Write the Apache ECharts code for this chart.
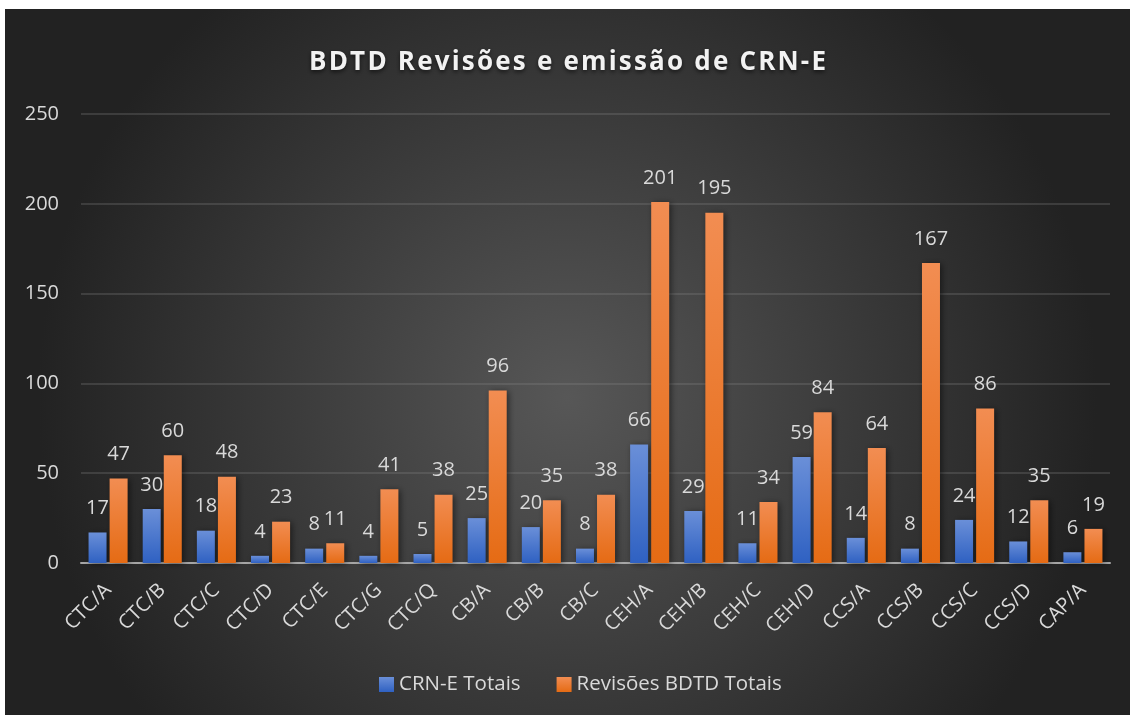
<!DOCTYPE html>
<html>
<head>
<meta charset="utf-8">
<script src="https://cdn.jsdelivr.net/npm/echarts@6/dist/echarts.min.js"></script>
<style>
  html, body { margin: 0; padding: 0; background: #ffffff; }
  /* 图表容器，四周留白与原图一致 */
  #chart { position: absolute; left: 5px; top: 9px; width: 1125px; height: 706px; }
</style>
</head>
<body>
<div id="chart"></div>
<script>
// 数据
const categories = ['CTC/A', 'CTC/B', 'CTC/C', 'CTC/D', 'CTC/E', 'CTC/G', 'CTC/Q', 'CB/A', 'CB/B', 'CB/C',
  'CEH/A', 'CEH/B', 'CEH/C', 'CEH/D', 'CCS/A', 'CCS/B', 'CCS/C', 'CCS/D', 'CAP/A']
const crnTotais = [17, 30, 18, 4, 8, 4, 5, 25, 20, 8, 66, 29, 11, 59, 14, 8, 24, 12, 6]
const revisoesTotais = [47, 60, 48, 23, 11, 41, 38, 96, 35, 38, 201, 195, 34, 84, 64, 167, 86, 35, 19]
const yTicks = { min: 0, max: 250, interval: 50 }
const chartTitle = 'BDTD Revisões e emissão de CRN-E'

const font = '"Open Sans", "Noto Sans", sans-serif'
const txt = '#d9d9d9'

const chart = echarts.init(document.getElementById('chart'))

function barGradient(top, bottom) {
  return new echarts.graphic.LinearGradient(0, 0, 0, 1, [
    { offset: 0, color: top },
    { offset: 1, color: bottom }
  ])
}

// 标题字间距：每个字符单独一个 rich 片段，左右加一点 padding
const spacedTitle = chartTitle.split('').map(ch => '{c|' + ch + '}').join('')

const option = {
  backgroundColor: {
    type: 'radial', x: 0.5, y: 0.55, r: 0.75,
    colorStops: [
      { offset: 0, color: '#575757' },
      { offset: 1, color: '#222222' }
    ]
  },
  title: {
    text: spacedTitle,
    left: 'center',
    top: 36,
    padding: [5, 0, 5, 6],
    textStyle: {
      rich: {
        c: {
          color: '#f2f2f2',
          fontFamily: font,
          fontWeight: 'bold',
          fontSize: 26,
          padding: [0, 1.1],
          textShadowColor: 'rgba(0,0,0,0.6)',
          textShadowBlur: 4,
          textShadowOffsetY: 2
        }
      }
    }
  },
  legend: {
    bottom: 15,
    left: 369,
    itemWidth: 15,
    itemHeight: 15,
    itemGap: 36,
    icon: 'rect',
    textStyle: { color: txt, fontFamily: font, fontSize: 20.5 },
    data: ['CRN-E Totais', 'Revisões BDTD Totais']
  },
  grid: { left: 76, right: 20, top: 105, bottom: 152 },
  xAxis: {
    type: 'category',
    data: categories,
    axisTick: { show: false },
    axisLine: { lineStyle: { color: '#a6a6a6', width: 2 } },
    axisLabel: {
      color: txt, fontFamily: font, fontSize: 20,
      rotate: 45, interval: 0, margin: 24
    }
  },
  yAxis: {
    type: 'value',
    min: yTicks.min,
    max: yTicks.max,
    interval: yTicks.interval,
    axisLine: { show: false },
    axisTick: { show: false },
    axisLabel: { color: txt, fontFamily: font, fontSize: 20, margin: 22 },
    splitLine: { lineStyle: { color: 'rgba(140,140,140,0.35)', width: 1.5 } }
  },
  series: [
    {
      name: 'CRN-E Totais',
      type: 'bar',
      data: crnTotais,
      barWidth: 18,
      barGap: '17%',
      itemStyle: {
        color: barGradient('#6a8fd8', '#2f61c2'),
        shadowColor: 'rgba(0,0,0,0.5)', shadowBlur: 6, shadowOffsetX: 2, shadowOffsetY: 1
      },
      label: { show: true, position: 'top', distance: 14, color: txt, fontFamily: font, fontSize: 20 }
    },
    {
      name: 'Revisões BDTD Totais',
      type: 'bar',
      data: revisoesTotais,
      barWidth: 18,
      itemStyle: {
        color: barGradient('#f28d52', '#e56b14'),
        shadowColor: 'rgba(0,0,0,0.5)', shadowBlur: 6, shadowOffsetX: 2, shadowOffsetY: 1
      },
      label: { show: true, position: 'top', distance: 14, color: txt, fontFamily: font, fontSize: 20 }
    }
  ]
}

chart.setOption(option)
window.addEventListener('resize', () => chart.resize())
</script>
</body>
</html>
